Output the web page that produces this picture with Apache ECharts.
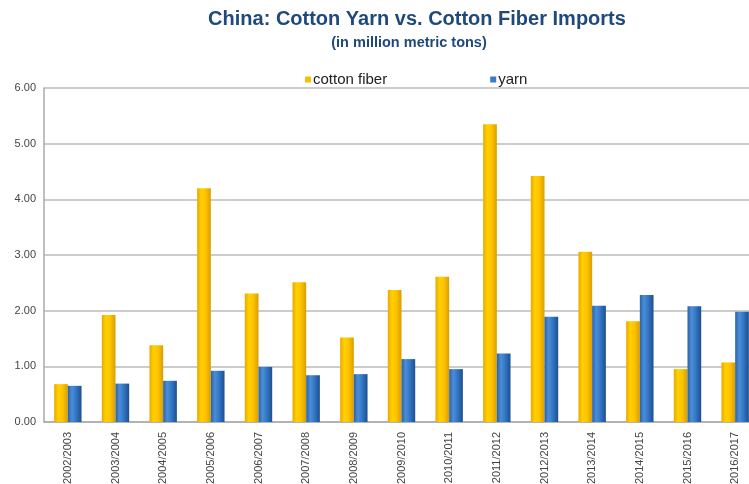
<!DOCTYPE html>
<html><head><meta charset="utf-8">
<script src="https://cdn.jsdelivr.net/npm/echarts@6/dist/echarts.min.js"></script>
<style>html,body{margin:0;padding:0;background:#fff}#c{width:749px;height:484px}</style>
</head><body><div id="c"></div>
<script>
const categories = ["2002/2003","2003/2004","2004/2005","2005/2006","2006/2007","2007/2008","2008/2009","2009/2010","2010/2011","2011/2012","2012/2013","2013/2014","2014/2015","2015/2016","2016/2017"];
const cottonFiber = [0.68,1.92,1.38,4.20,2.31,2.51,1.52,2.37,2.61,5.35,4.42,3.06,1.81,0.95,1.07];
const yarn = [0.65,0.69,0.74,0.92,0.99,0.84,0.86,1.13,0.95,1.23,1.89,2.09,2.28,2.08,1.98];
const yTicks = {min:0, max:6, interval:1};

const chart = echarts.init(document.getElementById('c'));
const yellowGrad = new echarts.graphic.LinearGradient(0,0,1,0,[
  {offset:0,color:'#E8A900'},{offset:0.3,color:'#FFD000'},{offset:0.6,color:'#FFC400'},{offset:1,color:'#D99E00'}]);
const blueGrad = new echarts.graphic.LinearGradient(0,0,1,0,[
  {offset:0,color:'#2A62A8'},{offset:0.3,color:'#4A8ED8'},{offset:0.6,color:'#3476C4'},{offset:1,color:'#1D4F8E'}]);
chart.setOption({
  animation:false,
  title:[
    {text:'China: Cotton Yarn vs. Cotton Fiber Imports',left:417,top:9,textAlign:'center',padding:0,
     textStyle:{fontFamily:'Liberation Sans',fontWeight:'bold',fontSize:20,color:'#1F497D'}},
    {text:'(in million metric tons)',left:409,top:35,textAlign:'center',padding:0,
     textStyle:{fontFamily:'Liberation Sans',fontWeight:'bold',fontSize:14.5,color:'#1F497D'}}
  ],
  legend:{top:67,left:300,itemWidth:6,itemHeight:6,itemGap:103,icon:'rect',
    textStyle:{fontFamily:'Liberation Sans',fontSize:15,color:'#222',padding:[0,0,0,-3]},
    data:[{name:'cotton fiber',itemStyle:{color:'#F5C000'}},{name:'yarn',itemStyle:{color:'#3A7BC8'}}]},
  grid:{left:44,top:88,width:715,bottom:62,outerBoundsMode:'none',containLabel:false},
  xAxis:{type:'category',data:categories,
    axisLine:{lineStyle:{color:'#aaa',width:1.5}},axisTick:{show:false},
    axisLabel:{rotate:90,interval:0,fontFamily:'Liberation Sans',fontSize:11,color:'#444',margin:10}},
  yAxis:{type:'value',min:yTicks.min,max:yTicks.max,interval:yTicks.interval,
    axisLine:{show:true,lineStyle:{color:'#aaa',width:1.5}},axisTick:{show:false},
    splitLine:{lineStyle:{color:'#bbb',width:1.5}},
    axisLabel:{formatter:v=>v.toFixed(2),fontFamily:'Liberation Sans',fontSize:11,color:'#444',margin:8}},
  series:[
    {name:'cotton fiber',type:'bar',data:cottonFiber,barWidth:13.7,barGap:'0%',itemStyle:{color:yellowGrad}},
    {name:'yarn',type:'bar',data:yarn,barWidth:13.7,barGap:'0%',itemStyle:{color:blueGrad}}
  ]
});
</script></body></html>
